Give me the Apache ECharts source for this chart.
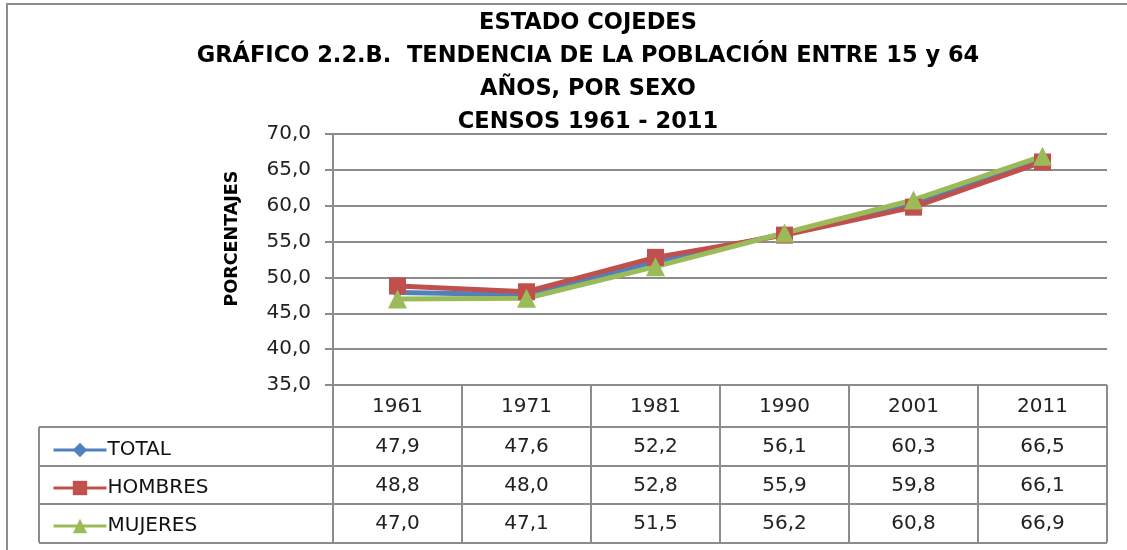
<!DOCTYPE html>
<html>
<head>
    <meta charset="utf-8">
    <title>Cojedes 15-64</title>
    <script src="https://cdn.jsdelivr.net/npm/echarts@6/dist/echarts.min.js"></script>
    <style>
        html, body{ margin:0; padding:0; background:#fff; }
        #main{ width:1127px; height:550px; }
    </style>
</head>
<body>
<div id="main"></div>
<script>
    // datos
    var years = ['1961', '1971', '1981', '1990', '2001', '2011'];
    var total = [47.9, 47.6, 52.2, 56.1, 60.3, 66.5];
    var hombres = [48.8, 48.0, 52.8, 55.9, 59.8, 66.1];
    var mujeres = [47.0, 47.1, 51.5, 56.2, 60.8, 66.9];
    var seriesNames = ['TOTAL', 'HOMBRES', 'MUJERES'];
    var yMin = 35, yMax = 70, yStep = 5;

    var FONT = '"DejaVu Sans"';
    var GRID = '#8c8c8c';
    var colors = ['#4f81bd', '#c0504d', '#9bbb59'];

    function coma(v){ return v.toFixed(1).replace('.', ','); }

    var myChart = echarts.init(document.getElementById('main'));
    myChart.setOption({
        animation: false,
        color: colors,
        textStyle: { fontFamily: FONT },
        title: {
            text: 'ESTADO COJEDES\nGRÁFICO 2.2.B.  TENDENCIA DE LA POBLACIÓN ENTRE 15 y 64\nAÑOS, POR SEXO\nCENSOS 1961 - 2011',
            left: 583,
            top: 2,
            textAlign: 'center',
            textStyle: { fontFamily: FONT, fontWeight: 'bold', fontSize: 22.5, lineHeight: 33, color: '#000' }
        },
        legend: {
            orient: 'vertical',
            left: 47,
            top: 435,
            itemWidth: 53,
            itemHeight: 18,
            itemGap: 18,
            data: seriesNames,
            lineStyle: { width: 3 },
            textStyle: { fontFamily: FONT, fontSize: 20, lineHeight: 20, color: '#111', padding: [0, 0, 0, -4] }
        },
        grid: { left: 333, right: 20, top: 134, bottom: 165, containLabel: false },
        xAxis: {
            type: 'category',
            data: years,
            boundaryGap: true,
            axisLine: { show: false },
            axisTick: { show: false },
            axisLabel: { show: false }
        },
        yAxis: {
            type: 'value',
            min: yMin, max: yMax, interval: yStep,
            name: 'PORCENTAJES',
            nameLocation: 'middle',
            nameRotate: 90,
            nameGap: 92,
            nameTextStyle: { fontFamily: FONT, fontWeight: 'bold', fontSize: 17.5, color: '#000', padding: [0, 0, 0, 42] },
            axisLine: { show: true, lineStyle: { color: GRID, width: 2 } },
            axisTick: { show: true, length: 8, lineStyle: { color: GRID, width: 2 } },
            axisLabel: { fontFamily: FONT, fontSize: 20, color: '#222', margin: 22, formatter: coma },
            splitLine: { lineStyle: { color: GRID, width: 2 } }
        },
        series: [
            { name: 'TOTAL', type: 'line', data: total, symbol: 'diamond', symbolSize: 12, lineStyle: { width: 5 } },
            { name: 'HOMBRES', type: 'line', data: hombres, symbol: 'rect', symbolSize: 17, lineStyle: { width: 5 } },
            { name: 'MUJERES', type: 'line', data: mujeres, symbol: 'triangle', symbolSize: 19, lineStyle: { width: 5 } }
        ]
    });

    // tabla de datos debajo del grafico, alineada con las categorias
    var rowsData = [total, hombres, mujeres];
    var c0 = myChart.convertToPixel({ xAxisIndex: 0 }, 0);
    var c1 = myChart.convertToPixel({ xAxisIndex: 0 }, 1);
    var band = c1 - c0;
    var xLeft = c0 - band / 2;
    var xRight = xLeft + band * years.length;
    var yTop = myChart.convertToPixel({ yAxisIndex: 0 }, yMin);
    var headH = 42, rowH = 38.5, legLeft = 39;
    var yBottom = yTop + headH + rowH * rowsData.length;
    var ln = { stroke: GRID, lineWidth: 2 };
    var els = [];

    // marco exterior
    els.push({ type: 'rect', shape: { x: 7, y: 4, width: 1140, height: 560 }, style: { fill: null, stroke: GRID, lineWidth: 2 }, silent: true });

    for (var i = 0; i <= years.length; i++) {
        var x = Math.round(xLeft + band * i);
        els.push({ type: 'line', shape: { x1: x, y1: yTop, x2: x, y2: yBottom }, style: ln });
    }
    els.push({ type: 'line', shape: { x1: legLeft, y1: yTop + headH, x2: legLeft, y2: yBottom }, style: ln });
    for (var r = 0; r <= rowsData.length; r++) {
        var y = Math.round(yTop + headH + rowH * r);
        els.push({ type: 'line', shape: { x1: legLeft, y1: y, x2: xRight, y2: y }, style: ln });
    }
    for (var k = 0; k < years.length; k++) {
        var cx = xLeft + band * (k + 0.5);
        els.push({ type: 'text', x: cx, y: yTop + headH / 2 + 1, style: { text: years[k], align: 'center', verticalAlign: 'middle', font: '20px ' + FONT, fill: '#222' } });
        for (var r2 = 0; r2 < rowsData.length; r2++) {
            els.push({ type: 'text', x: cx, y: yTop + headH + rowH * (r2 + 0.5) + 1, style: { text: coma(rowsData[r2][k]), align: 'center', verticalAlign: 'middle', font: '20px ' + FONT, fill: '#222' } });
        }
    }
    myChart.setOption({ graphic: els });
</script>
</body>
</html>
